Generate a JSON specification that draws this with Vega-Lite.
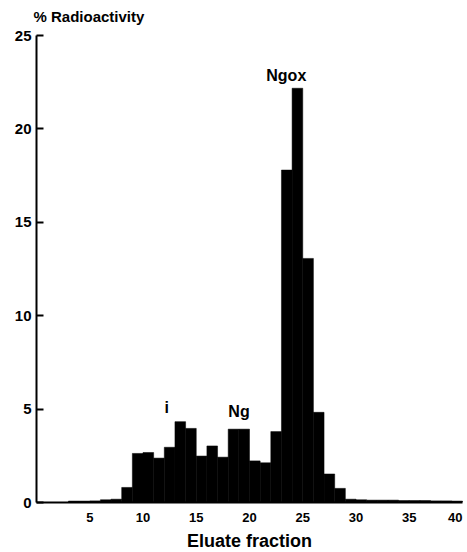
{
  "$schema": "https://vega.github.io/schema/vega-lite/v6.json",
  "width": 426,
  "height": 467,
  "autosize": {"type": "none"},
  "padding": {"left": 36, "top": 35, "right": 5, "bottom": 50},
  "background": "white",
  "config": {
    "view": {"stroke": null},
    "font": "Liberation Sans"
  },
  "datasets": {
    "bars": [
      {"fraction": 4, "from": 3, "to": 4, "pct": 0.05},
      {"fraction": 5, "from": 4, "to": 5, "pct": 0.05},
      {"fraction": 6, "from": 5, "to": 6, "pct": 0.06},
      {"fraction": 7, "from": 6, "to": 7, "pct": 0.12},
      {"fraction": 8, "from": 7, "to": 8, "pct": 0.15},
      {"fraction": 9, "from": 8, "to": 9, "pct": 0.78},
      {"fraction": 10, "from": 9, "to": 10, "pct": 2.6},
      {"fraction": 11, "from": 10, "to": 11, "pct": 2.65},
      {"fraction": 12, "from": 11, "to": 12, "pct": 2.35},
      {"fraction": 13, "from": 12, "to": 13, "pct": 2.93},
      {"fraction": 14, "from": 13, "to": 14, "pct": 4.3},
      {"fraction": 15, "from": 14, "to": 15, "pct": 3.94},
      {"fraction": 16, "from": 15, "to": 16, "pct": 2.46},
      {"fraction": 17, "from": 16, "to": 17, "pct": 3.0},
      {"fraction": 18, "from": 17, "to": 18, "pct": 2.4},
      {"fraction": 19, "from": 18, "to": 19, "pct": 3.9},
      {"fraction": 20, "from": 19, "to": 20, "pct": 3.9},
      {"fraction": 21, "from": 20, "to": 21, "pct": 2.2},
      {"fraction": 22, "from": 21, "to": 22, "pct": 2.1},
      {"fraction": 23, "from": 22, "to": 23, "pct": 3.77},
      {"fraction": 24, "from": 23, "to": 24, "pct": 17.77},
      {"fraction": 25, "from": 24, "to": 25, "pct": 22.15},
      {"fraction": 26, "from": 25, "to": 26, "pct": 13.04},
      {"fraction": 27, "from": 26, "to": 27, "pct": 4.8},
      {"fraction": 28, "from": 27, "to": 28, "pct": 1.5},
      {"fraction": 29, "from": 28, "to": 29, "pct": 0.73},
      {"fraction": 30, "from": 29, "to": 30, "pct": 0.15},
      {"fraction": 31, "from": 30, "to": 31, "pct": 0.12},
      {"fraction": 32, "from": 31, "to": 32, "pct": 0.1},
      {"fraction": 33, "from": 32, "to": 33, "pct": 0.1},
      {"fraction": 34, "from": 33, "to": 34, "pct": 0.1},
      {"fraction": 35, "from": 34, "to": 35, "pct": 0.08},
      {"fraction": 36, "from": 35, "to": 36, "pct": 0.08},
      {"fraction": 37, "from": 36, "to": 37, "pct": 0.08},
      {"fraction": 38, "from": 37, "to": 38, "pct": 0.06},
      {"fraction": 39, "from": 38, "to": 39, "pct": 0.06},
      {"fraction": 40, "from": 39, "to": 40, "pct": 0.05}
    ],
    "labels": [
      {"label": "i", "x": 12.27, "y": 5.03},
      {"label": "Ng", "x": 19.06, "y": 4.8},
      {"label": "Ngox", "x": 23.5, "y": 22.8}
    ]
  },
  "layer": [
    {
      "data": {"name": "bars"},
      "mark": {"type": "bar", "color": "black", "stroke": "black", "strokeWidth": 0.5, "binSpacing": 0},
      "encoding": {
        "x": {
          "field": "from",
          "type": "quantitative",
          "bin": "binned",
          "scale": {"domain": [0, 40], "nice": false},
          "axis": {
            "values": [5, 10, 15, 20, 25, 30, 35, 40],
            "ticks": false,
            "grid": false,
            "domainColor": "black",
            "domainWidth": 2,
            "labelFont": "Liberation Sans",
            "labelFontWeight": "bold",
            "labelFontSize": 13,
            "labelColor": "black",
            "labelPadding": 9,
            "title": "Eluate fraction",
            "titleFont": "Liberation Sans",
            "titleFontWeight": "bold",
            "titleFontSize": 18,
            "titleColor": "black",
            "titlePadding": 8
          }
        },
        "x2": {"field": "to"},
        "y": {
          "field": "pct",
          "type": "quantitative",
          "scale": {"domain": [0, 25], "nice": false},
          "axis": {
            "values": [0, 5, 10, 15, 20, 25],
            "grid": false,
            "tickSize": -7,
            "tickColor": "black",
            "tickWidth": 2,
            "domainColor": "black",
            "domainWidth": 2,
            "labelFont": "Liberation Sans",
            "labelFontWeight": "bold",
            "labelFontSize": 15,
            "labelColor": "black",
            "labelPadding": 12,
            "title": "% Radioactivity",
            "titleFont": "Liberation Sans",
            "titleFontWeight": "bold",
            "titleFontSize": 15,
            "titleColor": "black",
            "titleAngle": 0,
            "titleAlign": "left",
            "titleBaseline": "alphabetic",
            "titleX": -3,
            "titleY": -14
          }
        }
      }
    },
    {
      "data": {"name": "labels"},
      "mark": {"type": "text", "font": "Liberation Sans", "fontWeight": "bold", "fontSize": 16, "color": "black", "baseline": "middle", "align": "center"},
      "encoding": {
        "x": {"field": "x", "type": "quantitative"},
        "y": {"field": "y", "type": "quantitative"},
        "text": {"field": "label"}
      }
    }
  ]
}
